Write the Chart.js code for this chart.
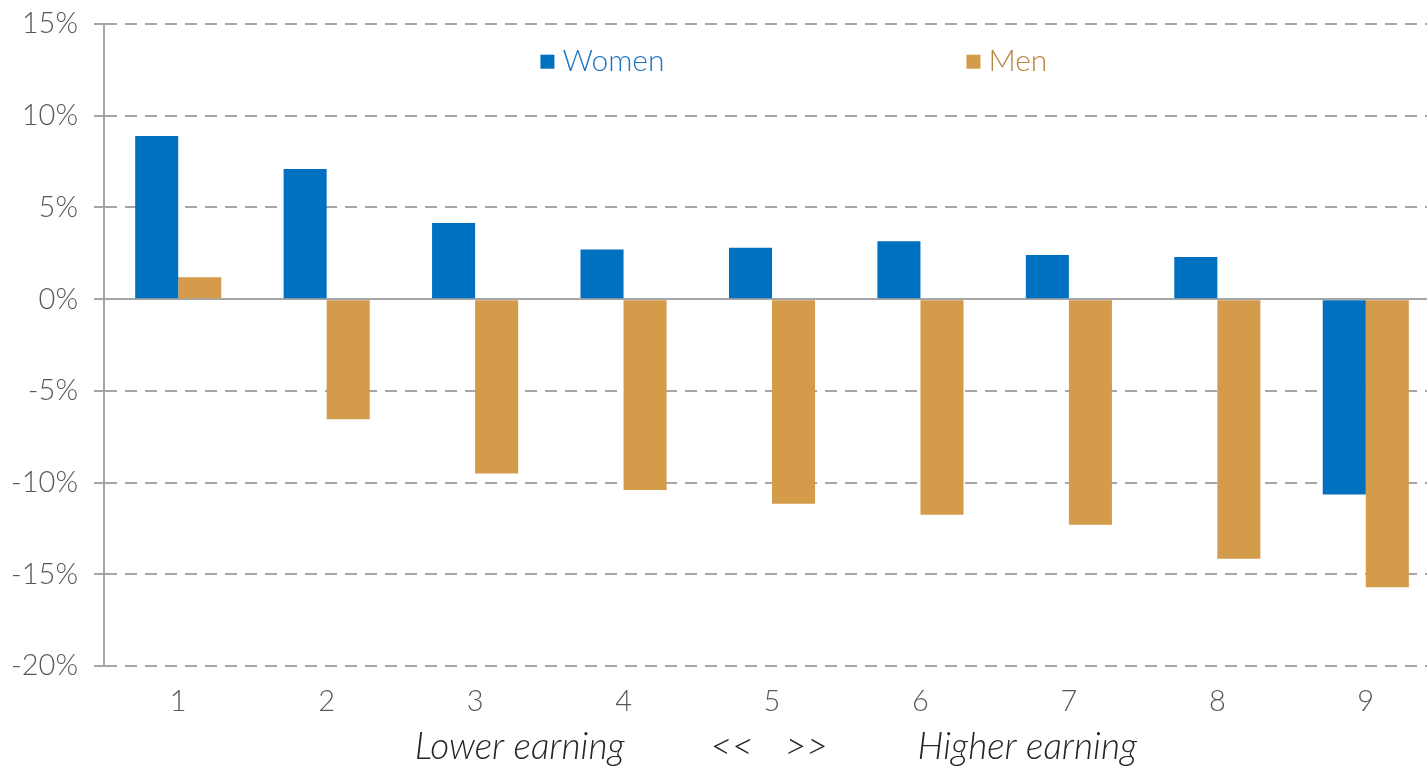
<!DOCTYPE html>
<html>
<head>
<meta charset="utf-8">
<script src="https://cdn.jsdelivr.net/npm/chart.js@4/dist/chart.umd.min.js"></script>
<style>
  html, body { margin: 0; padding: 0; overflow: hidden; background: #fff; }
  #wrap { width: 1440px; height: 766px; }
</style>
</head>
<body>
<div id="wrap"><canvas id="earningChart"></canvas></div>
<script>
// data
const deciles = ['1', '2', '3', '4', '5', '6', '7', '8', '9']
const women = [8.9, 7.1, 4.15, 2.7, 2.8, 3.15, 2.4, 2.3, -10.65]
const men = [1.2, -6.55, -9.5, -10.4, -11.15, -11.75, -12.3, -14.15, -15.7]
const yTicks = [15, 10, 5, 0, -5, -10, -15, -20]

const blue = '#0070C0'
const gold = '#D39B4A'
const fontFam = 'Lato, "Noto Sans", sans-serif'

// legend drawn inside the plot, like the original
const legendInside = {
  id: 'legendInside',
  afterDraw(chart) {
    const ctx = chart.ctx
    const xs = chart.scales.x
    const items = [
      { label: 'Women', color: blue, text: '#1A74C2', at: 2.44 },
      { label: 'Men', color: gold, text: '#B8843E', at: 5.31 }
    ]
    const y = chart.scales.y.getPixelForValue(13.0)
    ctx.save()
    ctx.font = '300 30px ' + fontFam
    ctx.textBaseline = 'middle'
    items.forEach(it => {
      const x = xs.getPixelForValue(it.at)
      ctx.fillStyle = it.color
      ctx.fillRect(x, y - 6, 14, 14)
      ctx.fillStyle = it.text
      ctx.fillText(it.label, x + 22, y + 1)
    })
    ctx.restore()
  }
}

// bottom caption under the deciles
const earningCaption = {
  id: 'earningCaption',
  afterDraw(chart) {
    const ctx = chart.ctx
    const xs = chart.scales.x
    const parts = [
      ['Lower earning', 2.30],
      ['<<', 3.73],
      ['>>', 4.23],
      ['Higher earning', 5.72]
    ]
    ctx.save()
    ctx.font = 'italic 300 37px ' + fontFam
    ctx.fillStyle = '#262626'
    ctx.textAlign = 'center'
    ctx.textBaseline = 'middle'
    parts.forEach(p => ctx.fillText(p[0], xs.getPixelForValue(p[1]), 747))
    ctx.restore()
  }
}

const data = {
  labels: deciles,
  datasets: [
    { label: 'Women', data: women, backgroundColor: blue },
    { label: 'Men', data: men, backgroundColor: gold }
  ]
}

const config = {
  type: 'bar',
  data,
  options: {
    responsive: true,
    maintainAspectRatio: false,
    animation: false,
    layout: { padding: { top: 24, right: 0, left: 0, bottom: 0 } },
    datasets: {
      bar: { categoryPercentage: 0.58, barPercentage: 1.0 }
    },
    plugins: {
      legend: { display: false },
      tooltip: { enabled: false }
    },
    scales: {
      x: {
        grid: { display: false },
        border: { display: false },
        ticks: {
          color: '#595959',
          font: { family: fontFam, size: 29, weight: 300 },
          padding: 10
        },
        afterFit(scale) { scale.height = 100 }
      },
      y: {
        min: -20,
        max: 15,
        afterBuildTicks(scale) {
          scale.ticks = yTicks.map(v => ({ value: v }))
        },
        ticks: {
          color: '#595959',
          font: { family: fontFam, size: 29, weight: 300 },
          padding: 16,
          callback: v => v + '%'
        },
        grid: {
          color: '#A6A6A6',
          lineWidth: 2,
          tickLength: 10,
          tickColor: '#A6A6A6',
          tickWidth: 2
        },
        border: {
          display: true,
          color: '#A6A6A6',
          width: 2,
          dash: ctx => (ctx.tick && ctx.tick.value === 0) ? [] : [12, 8]
        },
        afterFit(scale) {
          scale.width = 104
          scale.paddingTop = 0
          scale.paddingBottom = 0
        }
      }
    }
  },
  plugins: [legendInside, earningCaption]
}

const earningChart = new Chart(document.getElementById('earningChart'), config)
</script>
</body>
</html>
